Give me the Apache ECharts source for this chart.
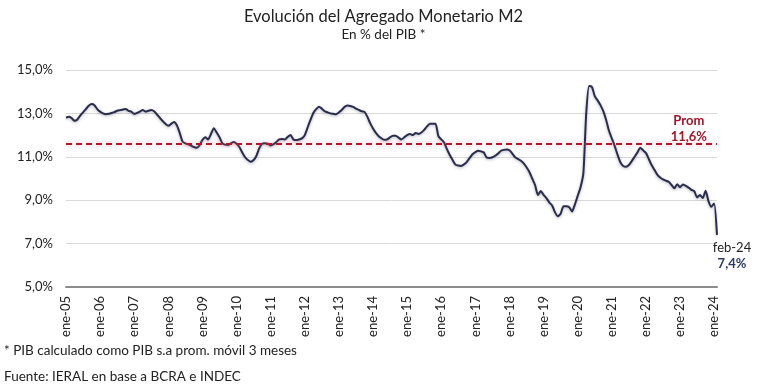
<!DOCTYPE html>
<html>
<head>
<meta charset="utf-8">
<script src="https://cdn.jsdelivr.net/npm/echarts@6/dist/echarts.min.js"></script>
<style>
html,body{margin:0;padding:0;background:#fff;}
#chart{width:767px;height:388px;}
</style>
</head>
<body>
<div id="chart"></div>
<script>
// Month names and years for category labels
const monthNames = ['ene','feb','mar','abr','may','jun','jul','ago','sep','oct','nov','dic'];
const startYear = 2005;

// M2 as % of GDP, monthly values by year
const y2005 = [12.80, 12.84, 12.78, 12.66, 12.72, 12.90, 13.05, 13.20, 13.35, 13.43, 13.38, 13.20];
const y2006 = [13.08, 13.00, 12.96, 12.98, 13.02, 13.06, 13.12, 13.15, 13.18, 13.20, 13.12, 13.08];
const y2007 = [12.97, 13.02, 13.08, 13.16, 13.08, 13.12, 13.16, 13.10, 12.95, 12.80, 12.65, 12.52];
const y2008 = [12.43, 12.52, 12.60, 12.45, 12.10, 11.70, 11.62, 11.58, 11.52, 11.45, 11.42, 11.54];
const y2009 = [11.78, 11.90, 11.80, 12.05, 12.32, 12.12, 11.90, 11.62, 11.56, 11.54, 11.62, 11.68];
const y2010 = [11.60, 11.45, 11.20, 10.98, 10.85, 10.77, 10.85, 11.05, 11.40, 11.60, 11.62, 11.60];
const y2011 = [11.52, 11.58, 11.68, 11.80, 11.82, 11.80, 11.92, 12.00, 11.80, 11.77, 11.80, 11.85];
const y2012 = [12.00, 12.35, 12.70, 13.02, 13.20, 13.31, 13.22, 13.10, 13.05, 13.00, 12.98, 12.96];
const y2013 = [13.05, 13.16, 13.30, 13.36, 13.34, 13.30, 13.22, 13.16, 13.10, 13.07, 12.85, 12.55];
const y2014 = [12.30, 12.10, 11.95, 11.85, 11.78, 11.80, 11.90, 11.97, 11.97, 11.88, 11.80, 11.90];
const y2015 = [12.00, 12.05, 12.00, 12.10, 12.05, 12.12, 12.24, 12.40, 12.52, 12.52, 12.52, 11.95];
const y2016 = [11.80, 11.66, 11.35, 11.08, 10.85, 10.64, 10.60, 10.58, 10.65, 10.77, 10.95, 11.12];
const y2017 = [11.22, 11.28, 11.25, 11.20, 10.96, 10.95, 10.98, 11.05, 11.15, 11.28, 11.32, 11.34];
const y2018 = [11.30, 11.15, 10.98, 10.90, 10.82, 10.70, 10.52, 10.30, 10.00, 9.70, 9.24, 9.42];
const y2019 = [9.25, 9.10, 8.90, 8.76, 8.45, 8.26, 8.38, 8.72, 8.72, 8.68, 8.48, 8.80];
const y2020 = [9.20, 9.60, 10.25, 13.00, 14.26, 14.22, 13.80, 13.60, 13.38, 13.10, 12.70, 12.20];
const y2021 = [11.85, 11.50, 11.10, 10.75, 10.58, 10.54, 10.62, 10.80, 11.00, 11.20, 11.42, 11.30];
const y2022 = [11.18, 10.90, 10.62, 10.40, 10.18, 10.05, 9.96, 9.90, 9.85, 9.70, 9.55, 9.74];
const y2023 = [9.60, 9.72, 9.66, 9.58, 9.48, 9.42, 9.13, 9.24, 9.10, 9.44, 8.96, 8.70];
const y2024 = [8.85, 7.40];

const average = 11.6;
const yTicks = {min: 5, max: 15, interval: 2};
const lastLabel = 'feb-24';
const lastValueText = '7,4%';
const avgText = 'Prom';
const avgValueText = '11,6%';

const values = [].concat(y2005,y2006,y2007,y2008,y2009,y2010,y2011,y2012,y2013,y2014,
                          y2015,y2016,y2017,y2018,y2019,y2020,y2021,y2022,y2023,y2024);
const categories = values.map((v, i) => {
  const yr = startYear + Math.floor(i / 12);
  return monthNames[i % 12] + '-' + String(yr % 100).padStart(2, '0');
});

const FONT = 'Lato, "Open Sans", sans-serif';
const lastIdx = values.length - 1;

const chart = echarts.init(document.getElementById('chart'), null, {renderer: 'canvas'});
chart.setOption({
  backgroundColor: '#fff',
  animation: false,
  title: {
    text: 'Evolución del Agregado Monetario M2',
    subtext: 'En % del PIB *',
    left: 'center',
    top: 3,
    itemGap: 3,
    textStyle: {fontFamily: FONT, fontSize: 16.5, fontWeight: 'normal', color: '#222'},
    subtextStyle: {fontFamily: FONT, fontSize: 13.5, color: '#222'}
  },
  grid: {left: 66, right: 50, top: 70, bottom: 101, containLabel: false},
  xAxis: {
    type: 'category',
    data: categories,
    boundaryGap: false,
    axisLine: {lineStyle: {color: '#8c8c8c', width: 2}},
    axisTick: {show: false},
    axisLabel: {
      rotate: 90,
      margin: 9,
      interval: (idx) => idx % 12 === 0,
      fontFamily: FONT,
      fontSize: 13,
      color: '#222'
    },
    splitLine: {show: false}
  },
  yAxis: {
    type: 'value',
    min: yTicks.min,
    max: yTicks.max,
    interval: yTicks.interval,
    axisLine: {show: false},
    axisTick: {show: false},
    axisLabel: {
      margin: 13,
      fontFamily: FONT,
      fontSize: 13,
      color: '#222',
      formatter: (v) => v.toFixed(1).replace('.', ',') + '%'
    },
    splitLine: {lineStyle: {color: '#d9d9d9', width: 1}}
  },
  series: [{
    type: 'line',
    data: values,
    symbol: 'none',
    smooth: 0.2,
    lineStyle: {color: '#2a2d4a', width: 2, shadowColor: 'rgba(40,40,80,0.35)', shadowBlur: 3, shadowOffsetY: 1},
    markLine: {
      silent: true,
      symbol: 'none',
      data: [{yAxis: average}],
      lineStyle: {color: '#b2182b', type: [6, 4], width: 2, shadowColor: 'rgba(255,120,140,0.7)', shadowBlur: 4},
      label: {
        show: true,
        position: 'insideEndTop',
        distance: [10, -1],
        formatter: '{p|' + avgText + '}\n{v|' + avgValueText + '}',
        rich: {
          p: {fontFamily: FONT, fontSize: 13, color: '#a3162a', fontWeight: 'bold', lineHeight: 17, align: 'center'},
          v: {fontFamily: FONT, fontSize: 13, color: '#a3162a', fontWeight: 'bold', lineHeight: 15, align: 'center'}
        }
      }
    },
    markPoint: {
      silent: true,
      symbol: 'circle',
      symbolSize: 1,
      itemStyle: {color: 'rgba(0,0,0,0)'},
      data: [{coord: [categories[lastIdx], values[lastIdx]]}],
      label: {
        show: true,
        position: 'bottom',
        distance: 4,
        offset: [15, 0],
        formatter: '{a|' + lastLabel + '}\n{b|' + lastValueText + '}',
        rich: {
          a: {fontFamily: FONT, fontSize: 13, color: '#222', lineHeight: 16, align: 'center'},
          b: {fontFamily: FONT, fontSize: 13, color: '#2b3a67', fontWeight: 'bold', lineHeight: 16, align: 'center'}
        }
      }
    }
  }],
  graphic: [
    {type: 'text', left: 4, top: 344, style: {text: '* PIB calculado como PIB s.a prom. móvil 3 meses', font: '13.5px ' + FONT, fill: '#222'}},
    {type: 'text', left: 4, top: 370, style: {text: 'Fuente: IERAL en base a BCRA e INDEC', font: '13.5px ' + FONT, fill: '#222'}}
  ]
});
</script>
</body>
</html>
